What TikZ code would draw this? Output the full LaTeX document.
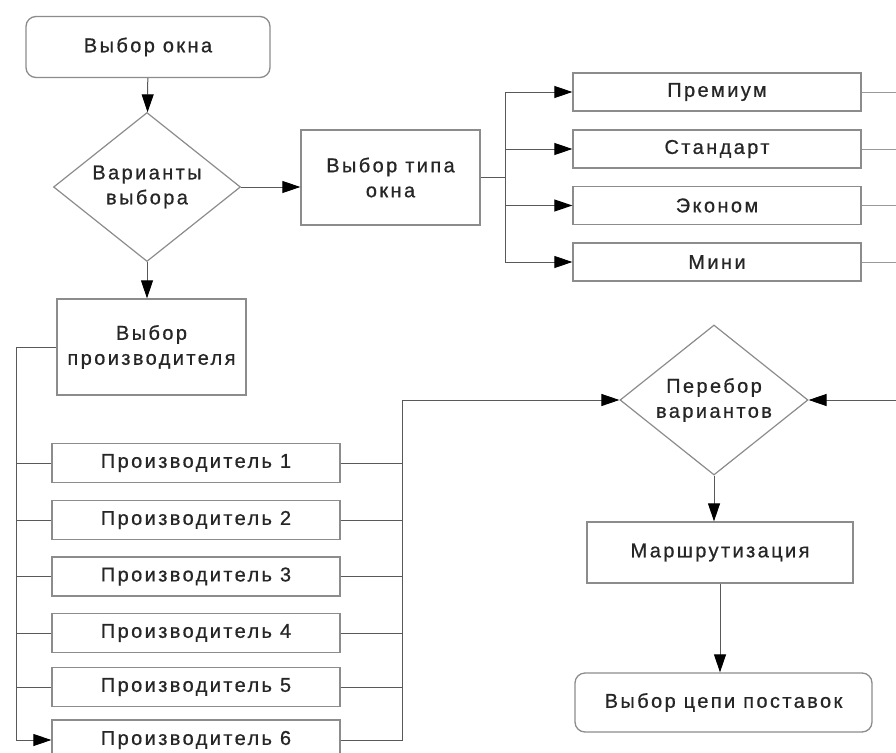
\documentclass[tikz,border=0pt]{standalone}
\usepackage{fontspec}
\setmainfont{Liberation Sans}[LetterSpace=12,FakeBold=0.7]
\usetikzlibrary{arrows.meta,shapes.geometric}
\begin{document}
\begin{tikzpicture}[x=1pt,y=-1pt,
  box/.style={draw=black!45, line width=1.3pt, fill=white, inner sep=0pt,
    font=\fontsize{20}{25}\selectfont, align=center, text=black!85},
  rbox/.style={box, rounded corners=10pt},
  dia/.style={draw=black!45, line width=1.2pt, fill=white, diamond, inner sep=0pt},
  lbl/.style={font=\fontsize{20}{25}\selectfont, align=center, inner sep=0pt, text=black!85},
  conn/.style={draw=black!65, line width=1pt},
  arr/.style={conn, -{Triangle[length=18pt,width=12pt,black]}}]
\useasboundingbox[fill=white] (0,0) rectangle (896,752);

% nodes
\node[rbox, minimum width=244pt, minimum height=61pt] (w1) at (148,47) {Выбор окна};
\node[dia, minimum width=187pt, minimum height=149pt] (d1) at (147,187) {};
\node[lbl] (d1t) at (d1) {Варианты\\выбора};
\node[box, minimum width=179pt, minimum height=95pt] (vt) at (390.5,177.5) {Выбор типа\\окна};
\node[box, minimum width=288pt, minimum height=38pt] (t1) at (717,92) {Премиум};
\node[box, minimum width=288pt, minimum height=38pt] (t2) at (717,149) {Стандарт};
\node[box, minimum width=288pt, minimum height=38pt] (t3) at (717,205.5) {Эконом};
\node[box, minimum width=288pt, minimum height=38pt] (t4) at (717,262) {Мини};
\node[box, minimum width=189pt, minimum height=96pt] (vp) at (151.5,347) {Выбор\\производителя};
\node[box, minimum width=288pt, minimum height=39pt] (p1) at (196,463) {Производитель 1};
\node[box, minimum width=288pt, minimum height=39pt] (p2) at (196,520) {Производитель 2};
\node[box, minimum width=288pt, minimum height=39pt] (p3) at (196,576.5) {Производитель 3};
\node[box, minimum width=288pt, minimum height=39pt] (p4) at (196,633) {Производитель 4};
\node[box, minimum width=288pt, minimum height=39pt] (p5) at (196,687) {Производитель 5};
\node[box, minimum width=288pt, minimum height=40pt] (p6) at (196,740) {Производитель 6};
\node[dia, minimum width=188pt, minimum height=150pt] (d2) at (714,400) {};
\node[lbl] (d2t) at (d2) {Перебор\\вариантов};
\node[box, minimum width=266pt, minimum height=61pt] (mr) at (720,552.5) {Маршрутизация};
\node[rbox, minimum width=297pt, minimum height=59pt] (vc) at (723.5,702.5) {Выбор цепи поставок};

% helper coordinates
\coordinate (bt) at (505,177.5);
\coordinate (bl) at (16,347);
\coordinate (br) at (402,400);
\coordinate (e1) at (896,92);
\coordinate (e2) at (896,149);
\coordinate (e3) at (896,205.5);
\coordinate (e4) at (896,262);
\coordinate (e5) at (896,400);

% connectors
\draw[arr] (w1) -- (d1);
\draw[arr] (d1.south) -- (d1.south |- vp.north);
\draw[arr] (d1.east) -- (vt.west |- d1.east);
\draw[conn] (vt.east) -- (bt);
\draw[arr] (bt) |- (t1.west);
\draw[arr] (bt) |- (t2.west);
\draw[arr] (bt) |- (t3.west);
\draw[arr] (bt) |- (t4.west);
\draw[conn, black!40] (t1.east) -- (e1);
\draw[conn, black!40] (t2.east) -- (e2);
\draw[conn, black!40] (t3.east) -- (e3);
\draw[conn, black!40] (t4.east) -- (e4);
\draw[arr] (e5) -- (d2.east);

\draw[conn] (vp.west) -- (bl);
\draw[arr] (bl) |- (p6.west);
\foreach \n in {p1,p2,p3,p4,p5} \draw[conn] (bl |- \n.west) -- (\n.west);
\foreach \n in {p1,p2,p3,p4,p5} \draw[conn] (\n.east) -- (br |- \n.east);
\draw[conn] (p6.east) -| (br);
\draw[arr] (br) -- (d2.west);

\draw[arr] (d2.south) -- (d2.south |- mr.north);
\draw[arr] (mr.south) -- (mr.south |- vc.north);
\end{tikzpicture}
\end{document}
